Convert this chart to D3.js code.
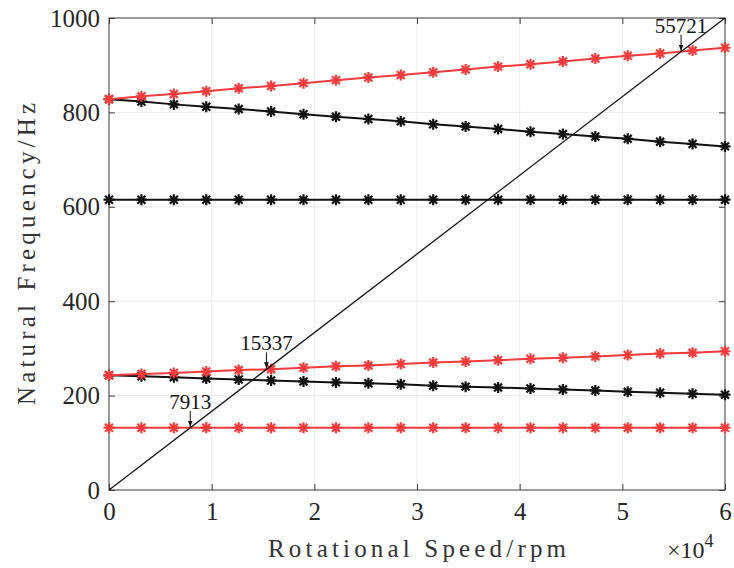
<!DOCTYPE html>
<html>
<head>
<meta charset="utf-8">
<script src="https://cdn.jsdelivr.net/npm/d3@7/dist/d3.min.js"></script>
<style>
  body { margin: 0; background: #fff; }
  svg { display: block; }
  text { font-family: "Liberation Serif", "Times New Roman", serif; }
</style>
</head>
<body>
<script>
"use strict";

var width = 734;
var height = 568;
var marginLeft = 109;
var marginRight = 9;
var marginTop = 18;
var marginBottom = 78;

// rotational speed (rpm) at each computed point
var speed = [0, 3158, 6316, 9474, 12632, 15789, 18947, 22105, 25263, 28421,
  31579, 34737, 37895, 41053, 44211, 47368, 50526, 53684, 56842, 60000];

// natural frequencies (Hz)
var blackUpper = [828, 823, 817, 812, 807, 802, 796, 791, 786, 781,
  775, 770, 765, 759, 754, 749, 744, 738, 733, 728];
var blackMid = [615, 615, 615, 615, 615, 615, 615, 615, 615, 615,
  615, 615, 615, 615, 615, 615, 615, 615, 615, 615];
var blackLower = [243, 241, 239, 236, 234, 232, 230, 228, 226, 224,
  221, 219, 217, 215, 213, 211, 208, 206, 204, 202];
var redUpper = [828, 834, 839, 845, 851, 856, 862, 868, 874, 879,
  885, 891, 897, 902, 908, 914, 920, 925, 931, 937];
var redLower = [243, 246, 248, 251, 254, 256, 259, 262, 264, 267,
  270, 272, 275, 278, 280, 283, 286, 289, 291, 294];
var redFlat = [132, 132, 132, 132, 132, 132, 132, 132, 132, 132,
  132, 132, 132, 132, 132, 132, 132, 132, 132, 132];

// excitation line (1x rotational frequency)
var lineSpeed = [0, 60000];
var lineFreq = [0, 1000];

// critical speeds marked on the chart
var critSpeed = [7913, 15337, 55721];
var critFreq = [131.9, 255.6, 928.7];

var xTicks = [0, 10000, 20000, 30000, 40000, 50000, 60000];
var xTickLabels = ["0", "1", "2", "3", "4", "5", "6"];
var yTicks = [0, 200, 400, 600, 800, 1000];

var svg = d3.select("body").append("svg").attr("width", width).attr("height", height);

var x = d3.scaleLinear().domain([0, 60000]).range([marginLeft, width - marginRight]);
var y = d3.scaleLinear().domain([0, 1000]).range([height - marginBottom, marginTop]);

var axisColor = "#3a3a3a";

// grid
svg.append("g").selectAll("line").data(xTicks.slice(1, -1)).enter().append("line")
  .attr("x1", function (d) { return x(d); }).attr("x2", function (d) { return x(d); })
  .attr("y1", y(0)).attr("y2", y(1000))
  .attr("stroke", "#ececec").attr("stroke-width", 1);
svg.append("g").selectAll("line").data(yTicks.slice(1, -1)).enter().append("line")
  .attr("y1", function (d) { return y(d); }).attr("y2", function (d) { return y(d); })
  .attr("x1", x(0)).attr("x2", x(60000))
  .attr("stroke", "#ececec").attr("stroke-width", 1);

// axes (ticks pointing inward, mirrored on top and right)
function styleAxis(g) {
  g.select(".domain").remove();
  g.selectAll(".tick line").attr("stroke", axisColor);
  g.selectAll(".tick text")
    .style("font-family", "'Liberation Serif', 'Times New Roman', serif")
    .style("font-size", "25px")
    .style("fill", "#262626");
}

var xAxis = d3.axisBottom(x).tickValues(xTicks).tickSize(-6).tickPadding(12)
  .tickFormat(function (d, i) { return xTickLabels[i]; });
svg.append("g").attr("transform", "translate(0," + y(0) + ")").call(xAxis).call(styleAxis);

var yAxis = d3.axisLeft(y).tickValues(yTicks).tickSize(-6).tickPadding(9)
  .tickFormat(d3.format("d"));
svg.append("g").attr("transform", "translate(" + x(0) + ",0)").call(yAxis).call(styleAxis);

svg.append("g").attr("transform", "translate(0," + y(1000) + ")")
  .call(d3.axisTop(x).tickValues(xTicks).tickSize(-6).tickFormat(""))
  .call(styleAxis);
svg.append("g").attr("transform", "translate(" + x(60000) + ",0)")
  .call(d3.axisRight(y).tickValues(yTicks).tickSize(-6).tickFormat(""))
  .call(styleAxis);

svg.append("rect")
  .attr("x", x(0)).attr("y", y(1000))
  .attr("width", x(60000) - x(0)).attr("height", y(0) - y(1000))
  .attr("fill", "none").attr("stroke", axisColor).attr("stroke-width", 1);

// series
var line = d3.line()
  .x(function (d) { return x(d[0]); })
  .y(function (d) { return y(d[1]); });

var r = 5.5;
var rd = r * 0.72;
var starPath = "M" + (-r) + ",0L" + r + ",0M0," + (-r) + "L0," + r +
  "M" + (-rd) + "," + (-rd) + "L" + rd + "," + rd +
  "M" + (-rd) + "," + rd + "L" + rd + "," + (-rd);

var series = [
  { values: blackUpper, color: "#111111" },
  { values: blackMid, color: "#111111" },
  { values: blackLower, color: "#111111" },
  { values: redUpper, color: "#f23b3b" },
  { values: redLower, color: "#f23b3b" },
  { values: redFlat, color: "#f23b3b" }
];

series.forEach(function (s) {
  var pts = speed.map(function (v, i) { return [v, s.values[i]]; });
  svg.append("path").datum(pts)
    .attr("d", line)
    .attr("fill", "none").attr("stroke", s.color).attr("stroke-width", 2);
  svg.append("g").selectAll("path").data(pts).enter().append("path")
    .attr("transform", function (d) { return "translate(" + x(d[0]) + "," + y(d[1]) + ")"; })
    .attr("d", starPath)
    .attr("fill", "none").attr("stroke", s.color).attr("stroke-width", 2.2);
});

// excitation line
svg.append("path")
  .datum(lineSpeed.map(function (v, i) { return [v, lineFreq[i]]; }))
  .attr("d", line)
  .attr("fill", "none").attr("stroke", "#111").attr("stroke-width", 1.3);

// critical speed annotations
svg.append("defs").append("marker")
  .attr("id", "arrow").attr("viewBox", "0 0 10 10")
  .attr("refX", 10).attr("refY", 5)
  .attr("markerWidth", 6).attr("markerHeight", 6)
  .attr("orient", "auto")
  .append("path").attr("d", "M0,1L10,5L0,9Z").attr("fill", "#111");

critSpeed.forEach(function (s, i) {
  var px = x(s);
  var py = y(critFreq[i]);
  svg.append("line")
    .attr("x1", px).attr("x2", px)
    .attr("y1", py - 17).attr("y2", py - 1)
    .attr("stroke", "#111").attr("stroke-width", 1)
    .attr("marker-end", "url(#arrow)");
  svg.append("text")
    .attr("x", px).attr("y", py - 19)
    .attr("text-anchor", "middle")
    .style("font-size", "21px")
    .attr("fill", "#111")
    .text(String(s));
});

// axis labels (spread serif letters to mimic the original's fixed-width face)
svg.append("text")
  .attr("x", (x(0) + x(60000)) / 2).attr("y", 557)
  .attr("text-anchor", "middle")
  .style("font-size", "25px")
  .attr("textLength", 298).attr("lengthAdjust", "spacing")
  .attr("fill", "#333")
  .text("Rotational Speed/rpm");

svg.append("text")
  .attr("transform", "translate(35," + (y(0) + y(1000)) / 2 + ") rotate(-90)")
  .attr("text-anchor", "middle")
  .style("font-size", "25px")
  .attr("textLength", 302).attr("lengthAdjust", "spacing")
  .attr("fill", "#333")
  .text("Natural Frequency/Hz");

var expo = svg.append("text")
  .attr("x", 667).attr("y", 558)
  .style("font-size", "24px")
  .attr("fill", "#262626");
expo.append("tspan").text("\u00d710");
expo.append("tspan").attr("dy", -11).style("font-size", "18px").text("4");
</script>
</body>
</html>
